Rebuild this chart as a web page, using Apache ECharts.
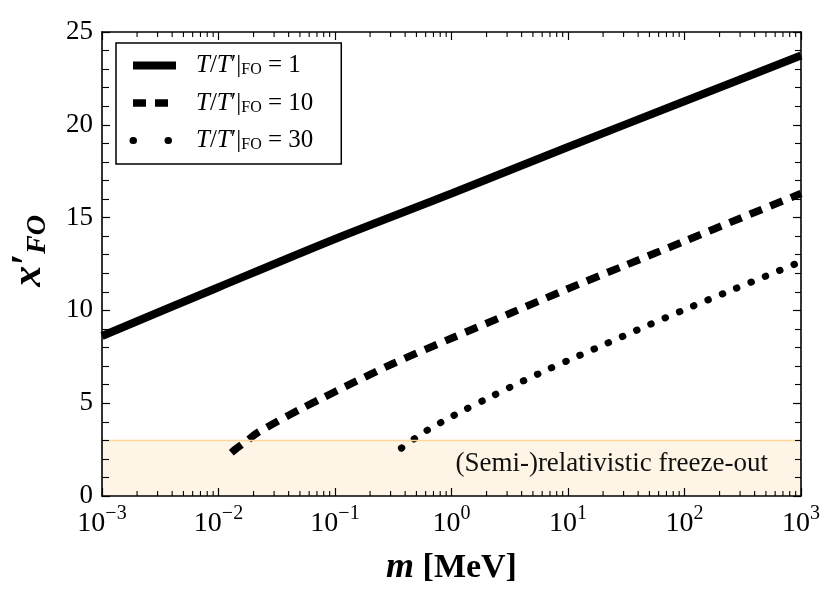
<!DOCTYPE html>
<html>
<head>
<meta charset="utf-8">
<script src="https://cdn.jsdelivr.net/npm/echarts@6/dist/echarts.min.js"></script>
<style>
  html, body { margin: 0; padding: 0; background: #fff; }
  #chart { width: 839px; height: 596px; }
</style>
</head>
<body>
<div id="chart"></div>
<script>
const serif = '"Liberation Serif", "DejaVu Serif", serif'

// log10(m / MeV) and x'_FO for each ratio T/T'|FO
const solidLogM = [-3, -2, -1, 0, 1, 2, 3]
const solidX = [8.62, 11.25, 13.85, 16.3, 18.8, 21.27, 23.73]

const dashLogM = [-1.89, -1.844, -1.75, -1.672, -1.5, -1.3, -1.1, -0.9, -0.5, 0, 0.5, 1, 1.5, 2, 2.5, 3]
const dashX = [2.33, 2.57, 3.0, 3.38, 4.0, 4.67, 5.3, 5.93, 7.14, 8.5, 9.83, 11.17, 12.45, 13.73, 15.02, 16.3]

const dotLogM = [-0.43, -0.3, -0.18, -0.05, 0.1, 0.3, 0.5, 0.8, 1.0, 1.3, 1.6, 2.0, 2.4, 2.7, 3.0]
const dotX = [2.58, 3.16, 3.65, 4.1, 4.6, 5.23, 5.85, 6.74, 7.3, 8.13, 8.96, 10.04, 11.08, 11.85, 12.63]

const seriesNames = ['r1', 'r10', 'r30']
const ratioLabels = ['1', '10', '30']

// decade ticks and minor ticks (2..9 x 10^k)
const decades = [-3, -2, -1, 0, 1, 2]
const minorSteps = [2, 3, 4, 5, 6, 7, 8, 9]
const bandTop = 3
const bandText = '(Semi-)relativistic freeze-out'

const toPts = (lg, ys) => lg.map((l, i) => [Math.pow(10, l), ys[i]])
const minorTicks = []
decades.forEach(d => minorSteps.forEach(s => minorTicks.push([s * Math.pow(10, d), 0])))

const supMinus = v => String(v).replace('-', '\u2212')

const chart = echarts.init(document.getElementById('chart'))

const axisLine = { show: true, onZero: false, lineStyle: { color: '#000', width: 1.6 } }

chart.setOption({
  animation: false,
  backgroundColor: '#fff',
  grid: { left: 102, right: 38, top: 32, bottom: 100 },
  xAxis: [
    {
      type: 'log', logBase: 10, min: 0.001, max: 1000, interval: 1, position: 'bottom', z: 10,
      axisLine,
      axisTick: { inside: true, length: 8, lineStyle: { color: '#000', width: 1.2 } },
      splitLine: { show: false },
      axisLabel: {
        margin: 8,
        formatter: v => '{b|10}{s|' + supMinus(Math.round(Math.log10(v))) + '}',
        rich: {
          b: { fontFamily: serif, fontSize: 28, color: '#000', lineHeight: 34, verticalAlign: 'bottom' },
          s: { fontFamily: serif, fontSize: 20, color: '#000', lineHeight: 20, verticalAlign: 'top' }
        }
      },
      name: '{i|m}{b| [MeV]}', nameLocation: 'middle', nameGap: 54,
      nameTextStyle: {
        rich: {
          i: { fontFamily: serif, fontSize: 36, fontWeight: 'bold', fontStyle: 'italic', color: '#000' },
          b: { fontFamily: serif, fontSize: 34, fontWeight: 'bold', color: '#000' }
        }
      }
    },
    {
      type: 'log', logBase: 10, min: 0.001, max: 1000, interval: 1, position: 'top', z: 10,
      axisLine,
      axisTick: { inside: true, length: 8, lineStyle: { color: '#000', width: 1.2 } },
      axisLabel: { show: false },
      splitLine: { show: false }
    }
  ],
  yAxis: [
    {
      type: 'value', min: 0, max: 25, interval: 5, position: 'left', z: 10,
      axisLine,
      axisTick: { inside: true, length: 8, lineStyle: { color: '#000', width: 1.2 } },
      minorTick: { show: true, splitNumber: 5, length: 7, lineStyle: { color: '#000', width: 1.1 } },
      splitLine: { show: false },
      axisLabel: { margin: 9, fontFamily: serif, fontSize: 27, color: '#000' },
      name: '{p| }{b|x\u2032}{s|FO}', nameLocation: 'middle', nameRotate: 90, nameGap: 50,
      nameTextStyle: {
        rich: {
          p: { width: 26, fontSize: 10 },
          b: { fontFamily: serif, fontSize: 42, fontWeight: 'bold', fontStyle: 'italic', color: '#000', lineHeight: 44, verticalAlign: 'top' },
          s: { fontFamily: serif, fontSize: 28, fontWeight: 'bold', fontStyle: 'italic', color: '#000', lineHeight: 28, verticalAlign: 'bottom' }
        }
      }
    },
    {
      type: 'value', min: 0, max: 25, interval: 5, position: 'right', z: 10,
      axisLine,
      axisTick: { inside: true, length: 8, lineStyle: { color: '#000', width: 1.2 } },
      minorTick: { show: true, splitNumber: 5, length: 6, lineStyle: { color: '#000', width: 1.1 } },
      splitLine: { show: false },
      axisLabel: { show: false }
    }
  ],
  legend: {
    orient: 'vertical', left: 116, top: 43, z: 20,
    backgroundColor: '#fff', borderColor: '#000', borderWidth: 1.5, borderRadius: 0,
    padding: [10, 28, 11, 13],
    itemWidth: 43, itemHeight: 14, itemGap: 12.5,
    itemStyle: { opacity: 0 },
    data: [
      { name: 'r1', lineStyle: { width: 8, type: 'solid', color: '#000' } },
      { name: 'r10', lineStyle: { width: 7.5, type: [13, 9], color: '#000' } },
      { name: 'r30', lineStyle: { width: 7, type: [0.5, 34.5], cap: 'round', color: '#000' } }
    ],
    formatter: name => '{i|T}{r|/}{i|T}{r|\u2032}{r||}{s|FO}{r| = ' + ratioLabels[seriesNames.indexOf(name)] + '}',
    textStyle: {
      padding: [0, 0, 0, 15],
      rich: {
        i: { fontFamily: serif, fontSize: 25, fontStyle: 'italic', color: '#000', lineHeight: 25 },
        r: { fontFamily: serif, fontSize: 25, color: '#000', lineHeight: 25 },
        s: { fontFamily: serif, fontSize: 16, color: '#000', lineHeight: 16, verticalAlign: 'bottom' }
      }
    }
  },
  series: [
    {
      type: 'line', name: 'band', data: [], silent: true, z: 1,
      markArea: {
        silent: true,
        itemStyle: { color: '#fef5e6', borderWidth: 0 },
        label: {
          show: true, position: 'insideRight', distance: 33, offset: [0, -4],
          fontFamily: serif, fontSize: 27, color: '#111'
        },
        data: [[{ yAxis: 0, name: bandText }, { yAxis: bandTop }]]
      },
      markLine: {
        silent: true, symbol: 'none',
        lineStyle: { color: '#fdd69a', width: 1.3, type: 'solid' },
        label: { show: false },
        data: [{ yAxis: bandTop }]
      }
    },
    {
      type: 'custom', name: 'minorTicks', silent: true, z: 11,
      data: minorTicks,
      renderItem: (params, api) => {
        const x = api.coord([api.value(0), 0])[0]
        const cs = params.coordSys
        const st = { stroke: '#000', lineWidth: 1.1 }
        return {
          type: 'group',
          children: [
            { type: 'line', shape: { x1: x, y1: cs.y + cs.height, x2: x, y2: cs.y + cs.height - 5 }, style: st },
            { type: 'line', shape: { x1: x, y1: cs.y, x2: x, y2: cs.y + 5 }, style: st }
          ]
        }
      }
    },
    {
      type: 'line', name: 'r1', data: toPts(solidLogM, solidX), symbol: 'none', smooth: 0.3, z: 3,
      lineStyle: { color: '#000', width: 8 }
    },
    {
      type: 'line', name: 'r10', data: toPts(dashLogM, dashX), symbol: 'none', smooth: 0.3, z: 3,
      lineStyle: { color: '#000', width: 7.5, type: [13, 9] }
    },
    {
      type: 'line', name: 'r30', data: toPts(dotLogM, dotX), symbol: 'none', smooth: 0.3, z: 3,
      lineStyle: { color: '#000', width: 7, type: [0.5, 15], cap: 'round' }
    }
  ]
})
</script>
</body>
</html>
